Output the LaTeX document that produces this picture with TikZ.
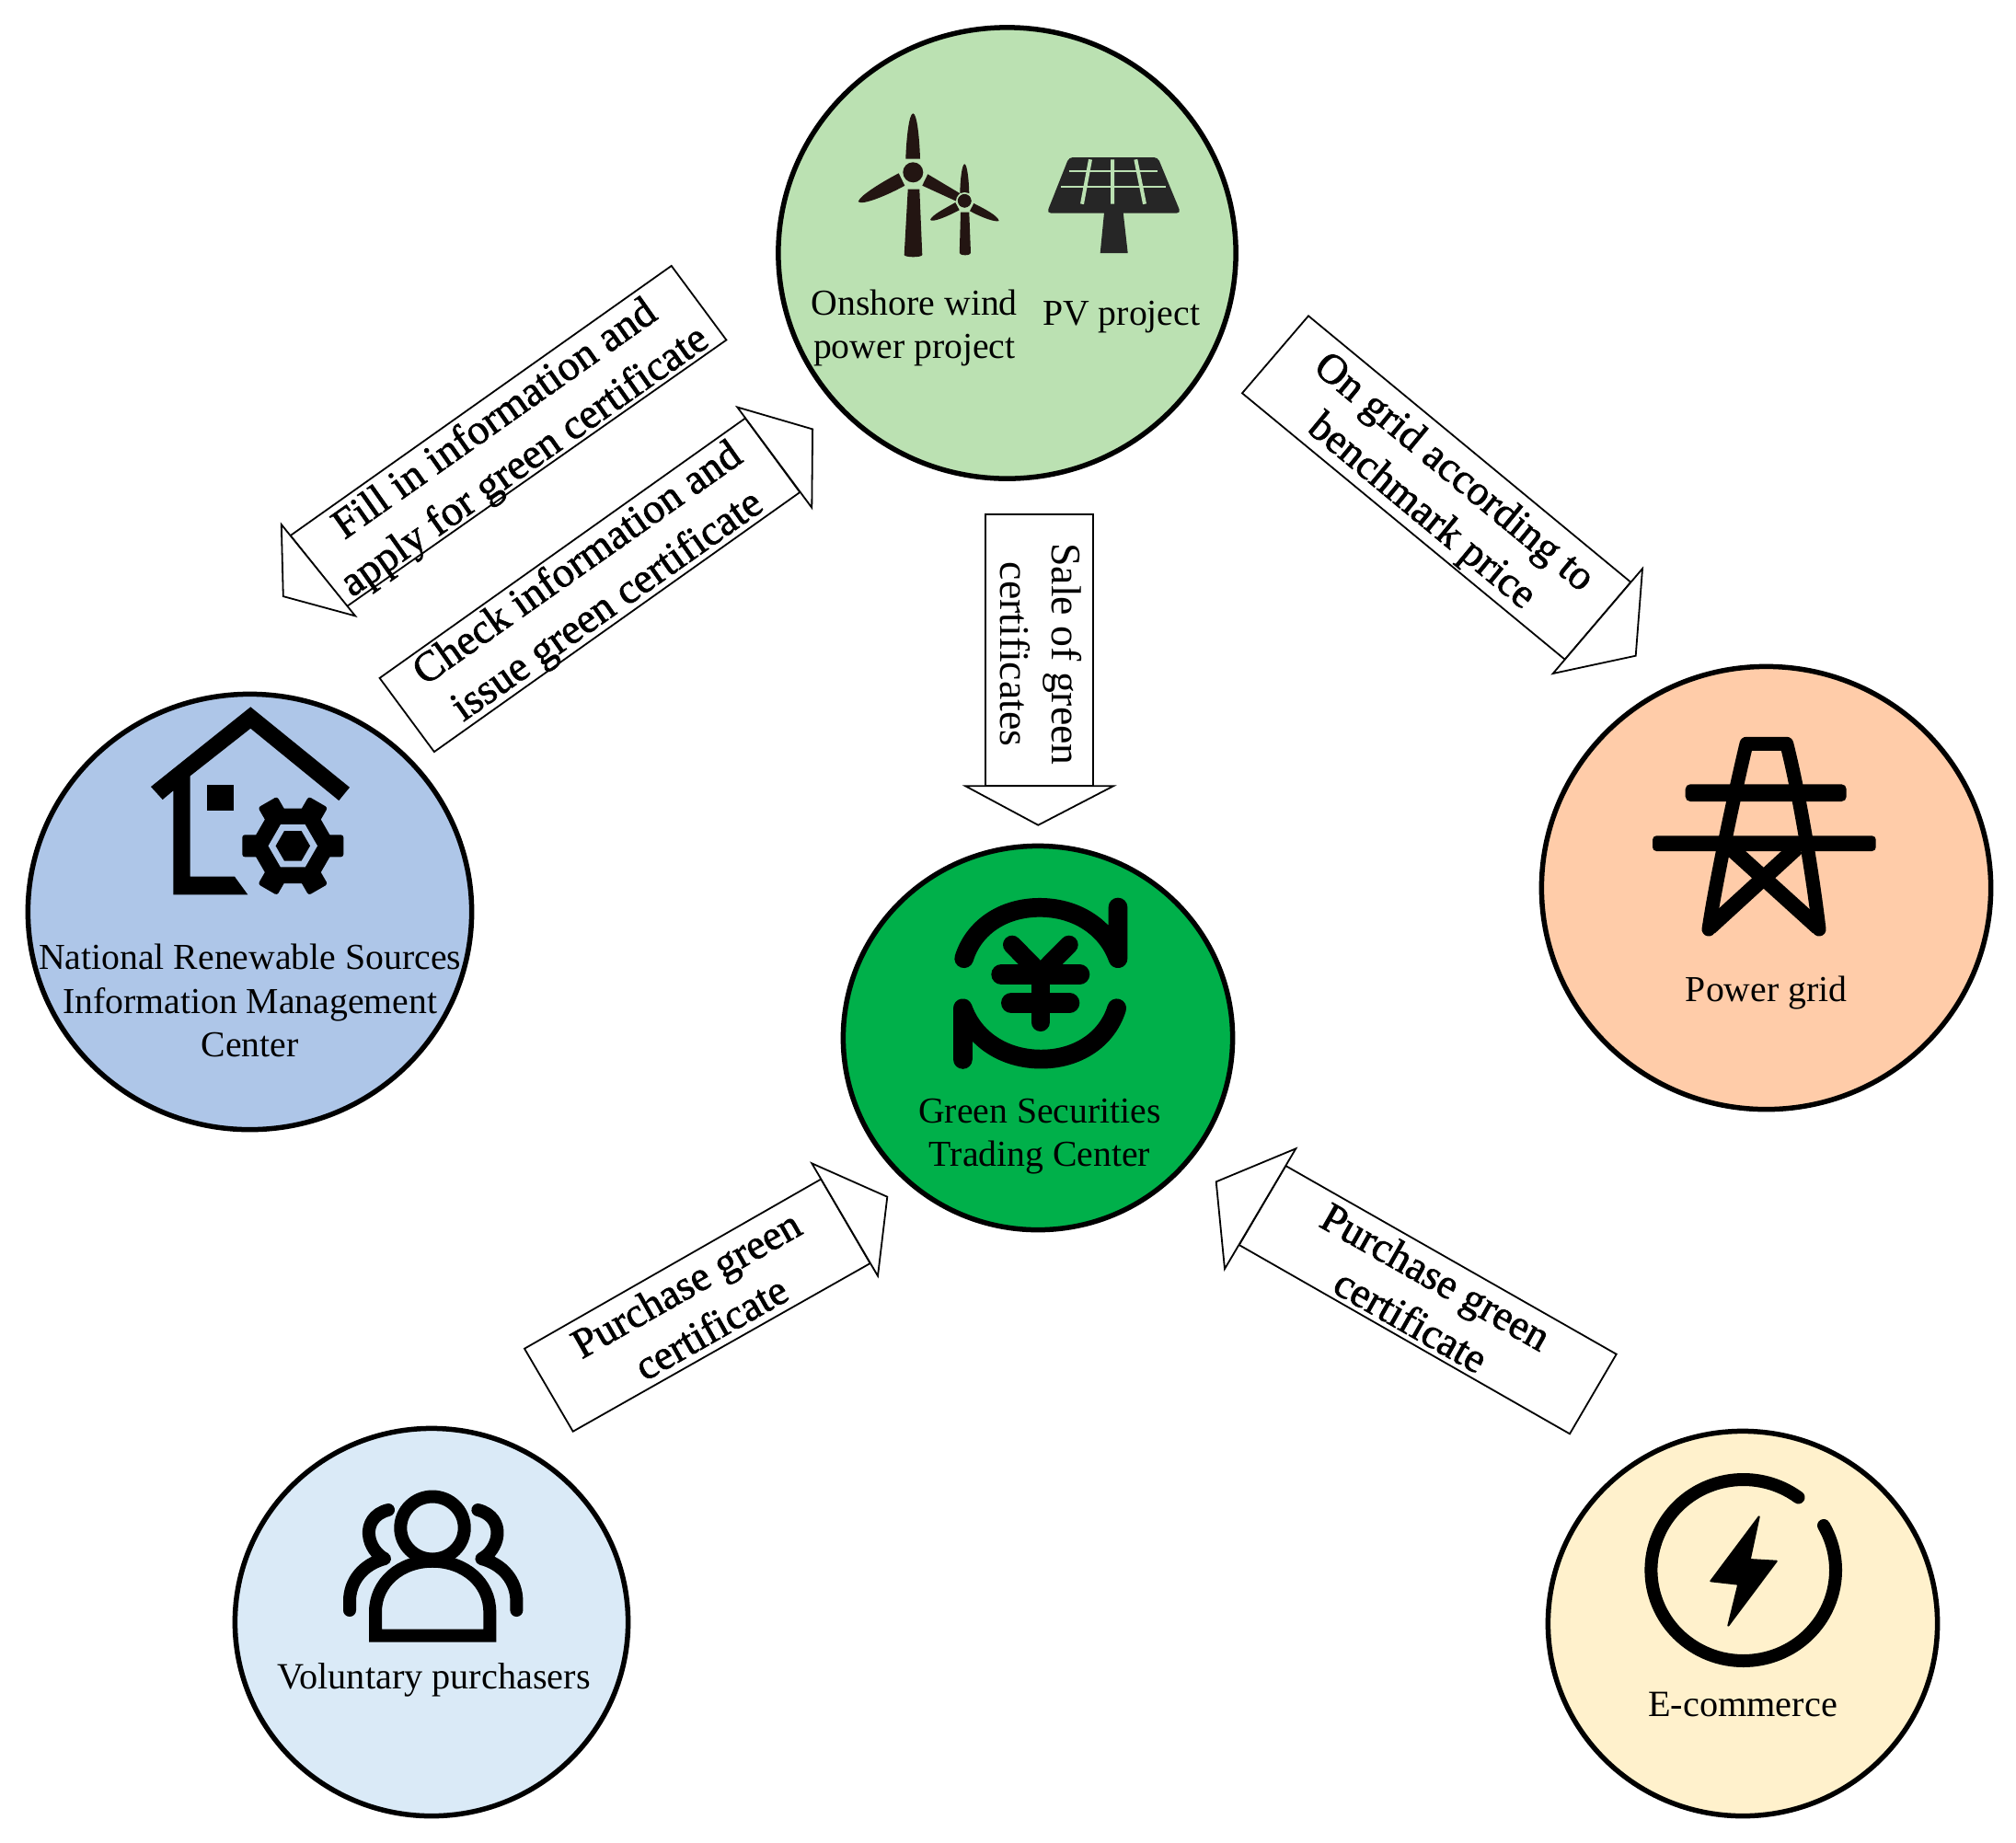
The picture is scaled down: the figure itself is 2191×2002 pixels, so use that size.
\documentclass[tikz,border=0pt]{standalone}
\usepackage{fontspec}
\setmainfont{Liberation Serif}
\newfontfamily\heavyserif[FakeBold=1.5]{Liberation Serif}
\usetikzlibrary{shapes.geometric}
\definecolor{topgreen}{HTML}{BBE1B2}
\definecolor{softblue}{HTML}{AEC6E8}
\definecolor{peach}{HTML}{FFCCA9}
\definecolor{deepgreen}{HTML}{00B04A}
\definecolor{paleblue}{HTML}{DAEAF7}
\definecolor{cream}{HTML}{FFF1CC}
\definecolor{turbine}{HTML}{231512}
\definecolor{panel}{HTML}{262626}
\tikzset{
  x=0.01cm,y=-0.01cm,
  disc/.style={ellipse,draw=black,line width=0.055cm,inner sep=0pt,outer sep=0pt},
  nodelabel/.style={inner sep=0pt,outer sep=0pt,align=center,text=black,font=\fontsize{11.3}{13.4}\selectfont},
  widelabel/.style={nodelabel,font=\fontsize{11.45}{13.4}\selectfont},
  arrowbody/.style={draw=black,line width=0.018cm,fill=white,line join=miter},
  arrowlabelA/.style={inner sep=0pt,align=center,font=\heavyserif\fontsize{13.1}{15.9}\selectfont},
  arrowlabelB/.style={inner sep=0pt,align=center,font=\heavyserif\fontsize{13}{15.6}\selectfont},
  arrowlabelC/.style={inner sep=0pt,align=center,font=\fontsize{13}{15.9}\selectfont},
  iconline/.style={draw=black,line cap=round,line join=round},
}
\begin{document}
\begin{tikzpicture}
\useasboundingbox (0,0) rectangle (2191,2002);
\fill[white] (0,0) rectangle (2191,2002);

% circles
\node[disc,fill=topgreen,minimum width=4.97cm,minimum height=4.90cm] (top) at (1094.5,275) {};
\node[disc,fill=softblue,minimum width=4.82cm,minimum height=4.73cm] (nrc) at (271.5,991) {};
\node[disc,fill=peach,minimum width=4.88cm,minimum height=4.81cm] (grid) at (1919.5,965) {};
\node[disc,fill=deepgreen,minimum width=4.23cm,minimum height=4.17cm] (gstc) at (1128,1128) {};
\node[disc,fill=paleblue,minimum width=4.27cm,minimum height=4.21cm] (vol) at (469,1763) {};
\node[disc,fill=cream,minimum width=4.23cm,minimum height=4.18cm] (ecom) at (1894,1764.5) {};

% block arrows
\draw[arrowbody] (729.7,288.9) -- (789.4,369.5) -- (377,659) -- (315.7,582) -- cycle;
\draw[arrowbody] (305.8,570) -- (307.8,648.1) -- (386.1,669.4) -- cycle;
\draw[arrowbody] (412.6,736.9) -- (471.9,817.1) -- (869.3,535) -- (810,454.5) -- cycle;
\draw[arrowbody] (801.3,442.5) -- (883.1,466.4) -- (882.3,551.8) -- cycle;
\draw[arrowbody] (1071,559) -- (1187.7,559) -- (1187.7,854.3) -- (1071,854.3) -- cycle;
\draw[arrowbody] (1049.3,854.3) -- (1210,854.3) -- (1128.3,896.7) -- cycle;
\draw[arrowbody] (1422,343.3) -- (1350,427.3) -- (1700.7,716.7) -- (1772.3,632.7) -- cycle;
\draw[arrowbody] (1785,618) -- (1777.7,712.7) -- (1687.7,732) -- cycle;
\draw[arrowbody] (570,1465.7) -- (622.7,1555.7) -- (945.7,1373) -- (892.3,1281.5) -- cycle;
\draw[arrowbody] (882.3,1264.3) -- (964.3,1300.7) -- (954,1386.7) -- cycle;
\draw[arrowbody] (1756.7,1471.7) -- (1706,1558.3) -- (1346.7,1353) -- (1397.3,1267) -- cycle;
\draw[arrowbody] (1408.3,1248.3) -- (1321.7,1284.3) -- (1331,1379) -- cycle;

\node[arrowlabelA,rotate=35.2] (fill) at (555,480) {Fill in information and\\apply for green certificate};
\node[arrowlabelA,rotate=35.2] (check) at (645,637) {Check information and\\issue green certificate};
\node[arrowlabelC,rotate=-90] (sale) at (1131.5,711) {Sale of green\\certificates};
\node[arrowlabelB,rotate=-39.6] (ongrid) at (1561.7,536) {On grid according to\\benchmark price};
\node[arrowlabelB,rotate=29.6] (buyl) at (759,1419) {Purchase green\\certificate};
\node[arrowlabelB,rotate=-29.6] (buyr) at (1547,1411) {Purchase green\\certificate};

% circle labels
\node[nodelabel] (wind) at (993.8,356) {Onshore wind\\power project};
\node[nodelabel,anchor=base] (pv) at (1218.7,353.3) {PV project};
\node[nodelabel] (nrclabel) at (271.7,1087.5) {National Renewable Sources\\Information Management\\Center};
\node[nodelabel,anchor=base] (gridlabel) at (1919.7,1088.3) {Power grid};
\node[nodelabel] (gstclabel) at (1130,1235.5) {Green Securities\\Trading Center};
\node[widelabel,anchor=base] (vollabel) at (471.7,1835) {Voluntary purchasers};
\node[widelabel,anchor=base] (ecomlabel) at (1894,1865.7) {E-commerce};

% wind turbines
\fill[turbine] (992.3,187.3) circle[radius=11];
\fill[turbine] (984.3,172.7) .. controls (985,150) and (988,123.3) .. (992.3,123.3) .. controls (996.6,123.3) and (999.3,150) .. (1000,172.7) -- cycle;
\fill[turbine] (976.7,188.3) .. controls (960,197) and (935,212) .. (932.7,219) .. controls (936,224) and (965,212) .. (983.3,201.7) -- cycle;
\fill[turbine] (1008.3,189.3) -- (1043,210) -- (1040,219) -- (1002.3,201.7) -- cycle;
\fill[turbine] (986.7,205.7) -- (999.3,205.7) -- (1002.3,277) arc[start angle=0,end angle=180,x radius=9.8,y radius=2.3] -- cycle;
\fill[turbine] (1048.3,218.3) circle[radius=7.5];
\fill[turbine] (1043.3,210) .. controls (1043.5,195) and (1045.5,178.3) .. (1048.3,178.3) .. controls (1051,178.3) and (1053,195) .. (1053.3,210) -- cycle;
\fill[turbine] (1038.3,220) .. controls (1028,226) and (1012,234) .. (1011,239) .. controls (1014,242) and (1030,235) .. (1042.7,228.3) -- cycle;
\fill[turbine] (1058.3,221) .. controls (1070,227) and (1084,234) .. (1085.7,240) .. controls (1082,242) and (1066,236) .. (1054,229.3) -- cycle;
\fill[turbine] (1044,230.7) -- (1053.3,230.7) -- (1055,275) arc[start angle=0,end angle=180,x radius=6.1,y radius=2.3] -- cycle;
\draw[topgreen,line width=0.02cm] (992.3,187.3) circle[radius=13];
\draw[topgreen,line width=0.015cm] (1048.3,218.3) circle[radius=8.5];

% solar panel
\fill[panel,rounded corners=1.2pt] (1161.7,171) -- (1258.3,171) -- (1283.3,231.5) -- (1137.7,231.5) -- cycle;
\fill[panel] (1200,231) -- (1220.7,231) -- (1225.7,275) -- (1195.7,275) -- cycle;
\draw[topgreen,line width=0.02cm] (1161.7,185.7) -- (1258.3,185.7) (1153.3,202.7) -- (1266.7,202.7);
\draw[topgreen,line width=0.04cm] (1185,173.3) -- (1176,221.7) (1209,173.3) -- (1209,221.7) (1234.3,173.3) -- (1244,221.7);

% house with gear
\fill[black] (272.3,768.3) -- (380,855.7) -- (368.3,870) -- (272.3,791.7) -- (206.7,843.3) -- (206.7,952.7) -- (255,952.7) -- (269.3,972.3) -- (188.3,972.3) -- (188.3,859.3) -- (176.7,869) -- (164,855) -- cycle;
\fill[black] (225,853.3) rectangle (254,881);
\begin{scope}[shift={(318.3,919.3)}]
  \fill[black] (0:47) -- (60:47) -- (120:47) -- (180:47) -- (240:47) -- (300:47) -- cycle;
  \foreach \a in {0,60,...,300} {
    \fill[black,rounded corners=0.8pt,rotate=\a] (30,-12) rectangle (55,12);
  }
  \fill[softblue] (0:26.7) -- (60:26.7) -- (120:26.7) -- (180:26.7) -- (240:26.7) -- (300:26.7) -- cycle;
  \fill[black] (0:18.7) -- (60:18.7) -- (120:18.7) -- (180:18.7) -- (240:18.7) -- (300:18.7) -- cycle;
\end{scope}

% pylon
\draw[iconline,line width=0.15cm] (1857,1010) .. controls (1866,950) and (1888,850) .. (1898,808.3) -- (1941.7,808.3) .. controls (1955,860) and (1970,950) .. (1977,1010);
\draw[iconline,line width=0.17cm,line cap=butt] (1858,1008) -- (1953,921);
\draw[iconline,line width=0.17cm,line cap=butt] (1976,1008) -- (1880,921);
\fill[black,rounded corners=1.5pt] (1831.7,852.3) -- (2006.7,852.3) -- (2006.7,871) -- (1831.7,871) -- cycle;
\fill[black,rounded corners=1.2pt] (1796,908.3) -- (2038.7,908.3) -- (2038.7,925) -- (1796,925) -- cycle;

% yen
\draw[iconline,line width=0.207cm] (1047.7,1041.7) .. controls (1058,1008) and (1090,986.3) .. (1130,986.3) .. controls (1170,986.3) and (1203,1008) .. (1215,1041.7) -- (1215,986);
\draw[iconline,line width=0.207cm] (1213.7,1095.7) .. controls (1203.4,1129.4) and (1171.4,1151.1) .. (1131.4,1151.1) .. controls (1091.4,1151.1) and (1058.4,1129.4) .. (1046.4,1095.7) -- (1046.4,1151.4);
\draw[iconline,line width=0.2cm] (1100,1026.7) -- (1130.7,1058) -- (1161.7,1026.7);
\draw[iconline,line width=0.2cm] (1130.7,1058) -- (1130.7,1111);
\draw[iconline,line width=0.22cm] (1088.3,1059) -- (1173.3,1059);
\draw[iconline,line width=0.22cm] (1099,1090) -- (1162.3,1090);

% people
\draw[black,line width=0.14cm] (470,1660.5) circle[x radius=34.7,y radius=34];
\draw[black,line width=0.14cm,line join=miter] (408,1777.7) -- (408,1752) .. controls (408,1720) and (435,1696.7) .. (470,1696.7) .. controls (505,1696.7) and (532.3,1720) .. (532.3,1752) -- (532.3,1777.7) -- cycle;
\draw[iconline,line width=0.14cm] (422,1641) .. controls (406,1645) and (400,1657) .. (401,1668) .. controls (402,1680) and (410,1690) .. (418,1694) .. controls (395,1700) and (380,1718) .. (380,1740) -- (380,1750);
\draw[iconline,line width=0.14cm] (519.4,1641) .. controls (535.4,1645) and (541.4,1657) .. (540.4,1668) .. controls (539.4,1680) and (531.4,1690) .. (523.4,1694) .. controls (546.4,1700) and (561.4,1718) .. (561.4,1740) -- (561.4,1750);

% power ring and bolt
\draw[iconline,line width=0.14cm] (1954.5,1627.4) arc[start angle=-53.4,end angle=-389.5,x radius=100.3,y radius=98.5];
\fill[black,draw=black,line width=0.02cm,line join=round] (1911.7,1648.3) -- (1901.7,1695) -- (1930.7,1696.7) -- (1878.3,1766.7) -- (1889.3,1721.7) -- (1859.3,1718.3) -- cycle;
\end{tikzpicture}
\end{document}
